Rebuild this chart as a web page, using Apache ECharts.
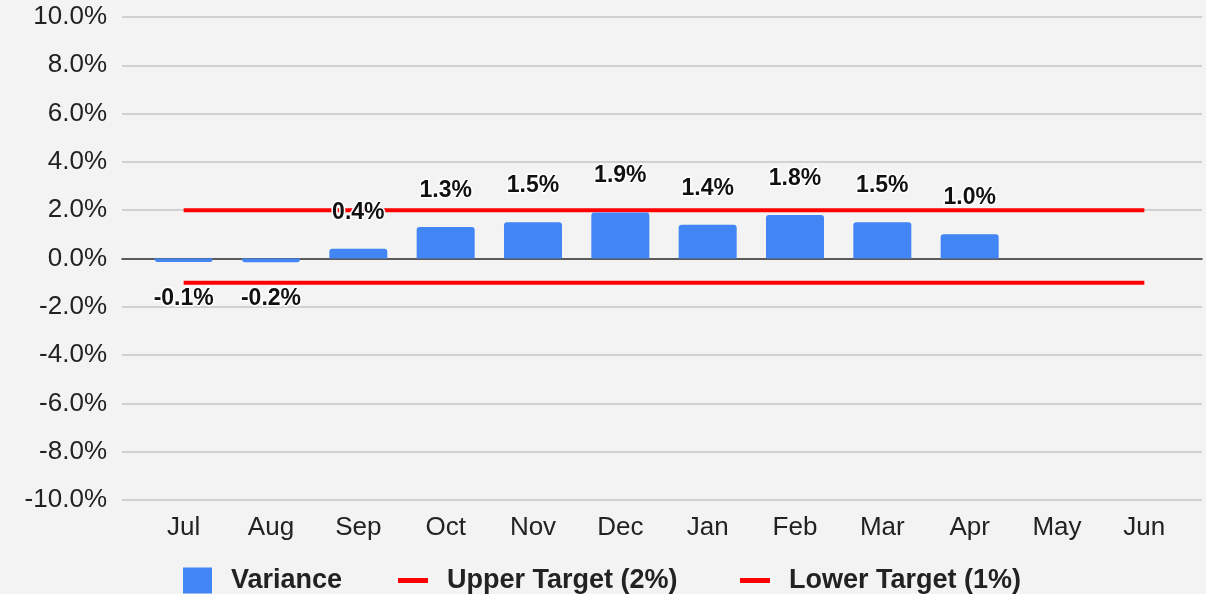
<!DOCTYPE html>
<html>
<head>
<meta charset="utf-8">
<script src="https://cdn.jsdelivr.net/npm/echarts@6/dist/echarts.min.js"></script>
<style>
  html, body { margin: 0; padding: 0; background: #f3f3f3; }
  #chart { width: 1206px; height: 594px; }
</style>
</head>
<body>
<div id="chart"></div>
<script>
// data
const months = ['Jul', 'Aug', 'Sep', 'Oct', 'Nov', 'Dec', 'Jan', 'Feb', 'Mar', 'Apr', 'May', 'Jun']
const variance = [-0.14, -0.16, 0.4, 1.3, 1.5, 1.9, 1.4, 1.8, 1.5, 1.0, null, null]
const upperTarget = [2, 2, 2, 2, 2, 2, 2, 2, 2, 2, 2, 2]
const lowerTarget = [-1, -1, -1, -1, -1, -1, -1, -1, -1, -1, -1, -1]

const font = '"Liberation Sans", Arial, sans-serif'
const chart = echarts.init(document.getElementById('chart'))

// bars with rounded ends away from zero, label on the outer side
const barData = variance.map(v => v == null ? null : {
    value: v,
    itemStyle: { borderRadius: v < 0 ? [0, 0, 3, 3] : [3, 3, 0, 0] },
    label: { position: v < 0 ? 'bottom' : 'top' }
})

const legendBase = {
    top: 567,
    padding: 0,
    selectedMode: false,
    textStyle: { fontFamily: font, fontSize: 27, fontWeight: 'bold', color: '#222', padding: [0, 0, 0, 14] }
}

const option = {
    backgroundColor: '#f3f3f3',
    animation: false,
    grid: [
        // background grid: gridlines, y labels, zero line across the full width
        { left: 122, right: 4, top: 17, bottom: 94 },
        // plotting grid: categories sit inside a narrower band
        { left: 140, right: 18, top: 17, bottom: 94 }
    ],
    xAxis: [
        {
            gridIndex: 0, type: 'value', min: 0, max: 1,
            axisLine: { show: true, onZero: true, lineStyle: { color: '#333', width: 1.5 } },
            axisTick: { show: false }, axisLabel: { show: false }, splitLine: { show: false }
        },
        {
            gridIndex: 1, type: 'category', data: months,
            axisLine: { show: false }, axisTick: { show: false },
            axisLabel: { margin: 15, fontFamily: font, fontSize: 26, color: '#222' }
        }
    ],
    yAxis: [
        {
            gridIndex: 0, type: 'value', min: -10, max: 10, interval: 2,
            axisLine: { show: false }, axisTick: { show: false },
            axisLabel: { margin: 15, fontFamily: font, fontSize: 26, color: '#222', formatter: v => v.toFixed(1) + '%' },
            splitLine: { lineStyle: { color: '#c6c6c6', width: 1.5 } }
        },
        {
            gridIndex: 1, type: 'value', min: -10, max: 10, interval: 2, show: false,
            splitLine: { show: false }
        }
    ],
    legend: [
        Object.assign({}, legendBase, { left: 183, data: [{ name: 'Variance', icon: 'rect' }], itemWidth: 29, itemHeight: 26 }),
        Object.assign({}, legendBase, { left: 398, data: [{ name: 'Upper Target (2%)', icon: 'rect' }], itemWidth: 30, itemHeight: 5 }),
        Object.assign({}, legendBase, { left: 740, data: [{ name: 'Lower Target (1%)', icon: 'rect' }], itemWidth: 30, itemHeight: 5 })
    ],
    series: [
        {
            name: 'Variance', type: 'bar', xAxisIndex: 1, yAxisIndex: 1, z: 3,
            data: barData, barWidth: 58,
            itemStyle: { color: '#4285f4' },
            label: {
                show: true, distance: 25,
                fontFamily: font, fontSize: 23, fontWeight: 'bold', color: '#111',
                textBorderColor: '#ffffff', textBorderWidth: 3,
                formatter: p => p.value.toFixed(1) + '%'
            }
        },
        {
            name: 'Upper Target (2%)', type: 'line', xAxisIndex: 1, yAxisIndex: 1, z: 2,
            data: upperTarget, showSymbol: false, symbol: 'none',
            lineStyle: { color: '#ff0000', width: 4 }, itemStyle: { color: '#ff0000' }
        },
        {
            name: 'Lower Target (1%)', type: 'line', xAxisIndex: 1, yAxisIndex: 1, z: 2,
            data: lowerTarget, showSymbol: false, symbol: 'none',
            lineStyle: { color: '#ff0000', width: 4 }, itemStyle: { color: '#ff0000' }
        }
    ]
}

chart.setOption(option)
</script>
</body>
</html>
